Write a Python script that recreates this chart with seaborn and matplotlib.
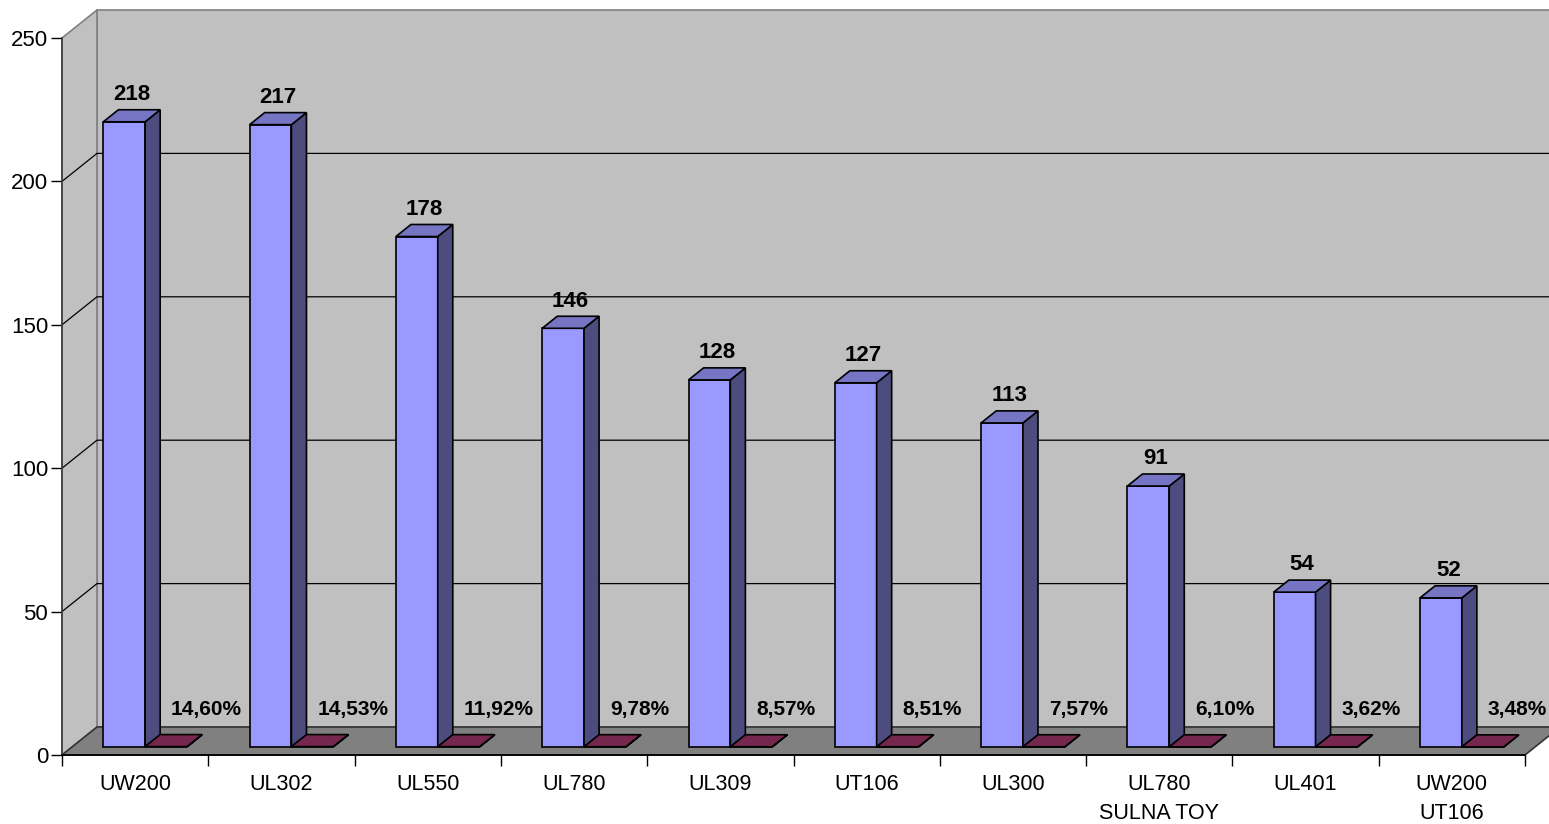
import matplotlib.pyplot as plt
import numpy as np
import pandas as pd
import seaborn as sns
from matplotlib.patches import Polygon

# Chart data
models = ["UW200", "UL302", "UL550", "UL780", "UL309", "UT106", "UL300",
          "UL780\nSULNA TOY", "UL401", "UW200\nUT106"]
counts = [218, 217, 178, 146, 128, 127, 113, 91, 54, 52]
shares = [14.60, 14.53, 11.92, 9.78, 8.57, 8.51, 7.57, 6.10, 3.62, 3.48]
y_ticks = [0, 50, 100, 150, 200, 250]

BLUE = "#9999FF"
MAROON = "#993366"


def shade(hex_color, k):
    r, g, b = (int(hex_color[i:i + 2], 16) for i in (1, 3, 5))
    return "#{:02x}{:02x}{:02x}".format(int(r * k), int(g * k), int(b * k))


df = pd.DataFrame({
    "model": models * 2,
    "series": ["count"] * len(models) + ["share"] * len(models),
    "value": counts + [s / 100 for s in shares],
})

sns.set_theme(style="white")
plt.rcParams["font.family"] = ["Liberation Sans", "DejaVu Sans"]
plt.rcParams["text.color"] = "black"
plt.rcParams["xtick.color"] = "black"
plt.rcParams["ytick.color"] = "black"

W, H = 1549, 824
fig = plt.figure(figsize=(W / 100, H / 100), dpi=100)
# front plane of the 3D box, in pixels: x 62..1525, y 38..755
ax = fig.add_axes([62 / W, 1 - 755 / H, (1525 - 62) / W, (755 - 38) / H])

sns.barplot(data=df, x="model", y="value", hue="series", palette=[BLUE, MAROON],
            width=0.5714, saturation=1, ax=ax, legend=False,
            edgecolor="black", linewidth=1.2)
bars = list(ax.patches)

ax.set_xlim(-0.5, len(models) - 0.5)
ax.set_ylim(0, 250)
ax.set_facecolor("none")

# pixel -> data conversion and depth offset of the box
px_x = (1525 - 62) / len(models)
px_y = (755 - 38) / 250
DX, DY = 35 / px_x, 28 / px_y
x0, x1 = -0.5, len(models) - 0.5

# walls and floor
back = Polygon([(x0 + DX, DY), (x0 + DX, 250 + DY), (x1 + DX, 250 + DY), (x1 + DX, DY)],
               closed=True, facecolor="#C0C0C0", edgecolor="#808080", lw=1.2,
               clip_on=False, zorder=0.2)
side = Polygon([(x0, 0), (x0, 250), (x0 + DX, 250 + DY), (x0 + DX, DY)],
               closed=True, facecolor="#C0C0C0", edgecolor="#808080", lw=1.2,
               clip_on=False, zorder=0.3)
floor = Polygon([(x0, 0), (x1, 0), (x1 + DX, DY), (x0 + DX, DY)],
                closed=True, facecolor="#808080", edgecolor="#333333", lw=1.2,
                clip_on=False, zorder=0.6)
for p in (back, side, floor):
    ax.add_patch(p)

for v in y_ticks[1:-1]:
    ax.plot([x0, x0 + DX, x1 + DX], [v, v + DY, v + DY], color="black", lw=0.9,
            clip_on=False, zorder=0.5)

# turn flat bars into 3D columns
front_f, depth_f = 0.285, 0.43
fx, fy = front_f * DX, front_f * DY
ddx, ddy = depth_f * DX, depth_f * DY
n = len(models)
for i, p in enumerate(bars):
    color = BLUE if i < n else MAROON
    x, w, h = p.get_x(), p.get_width(), p.get_height()
    p.set_x(x + fx)
    p.set_y(fy)
    p.set_zorder(3)
    xl, xr = x + fx, x + fx + w
    top = Polygon([(xl, fy + h), (xr, fy + h), (xr + ddx, fy + h + ddy), (xl + ddx, fy + h + ddy)],
                  closed=True, facecolor=shade(color, 0.77), edgecolor="black", lw=1.2,
                  clip_on=False, zorder=3)
    right = Polygon([(xr, fy), (xr, fy + h), (xr + ddx, fy + h + ddy), (xr + ddx, fy + ddy)],
                    closed=True, facecolor=shade(color, 0.5), edgecolor="black", lw=1.2,
                    clip_on=False, zorder=3)
    ax.add_patch(right)
    ax.add_patch(top)
    if i < n:
        ax.annotate(str(counts[i]), xy=(xl + w / 2 + ddx / 2, fy + h + ddy),
                    xytext=(0, 7), textcoords="offset points", ha="center",
                    va="baseline", fontsize=16, fontweight="bold", zorder=5,
                    annotation_clip=False)
    else:
        j = i - n
        label = f"{shares[j]:.2f}".replace(".", ",") + "%"
        ax.text(xl + w / 2 + 5 / px_x, fy + 38 / px_y, label, ha="left", va="center",
                fontsize=15, fontweight="bold", zorder=5)

# axes, ticks
for s in ("top", "right"):
    ax.spines[s].set_visible(False)
ax.spines["left"].set_color("#404040")
ax.spines["bottom"].set_color("black")
ax.spines["left"].set_zorder(4)
ax.spines["bottom"].set_zorder(4)

ax.set_yticks(y_ticks)
ax.set_yticklabels([str(v) for v in y_ticks])
ax.set_xticks(np.arange(x0, x1 + 0.01, 1))
ax.set_xticklabels([""] * (n + 1))
ax.set_xticks(np.arange(n), minor=True)
ax.set_xticklabels(models, minor=True, fontsize=15.5, linespacing=1.5)
ax.tick_params(axis="x", which="major", direction="out", length=8, width=1, color="black", bottom=True)
ax.tick_params(axis="x", which="minor", length=0, pad=14)
ax.tick_params(axis="y", direction="out", length=8, width=1, color="black", left=True,
               labelsize=16, pad=2)
ax.set_xlabel("")
ax.set_ylabel("")
ax.grid(False)

fig.savefig("out.png", dpi=100)
